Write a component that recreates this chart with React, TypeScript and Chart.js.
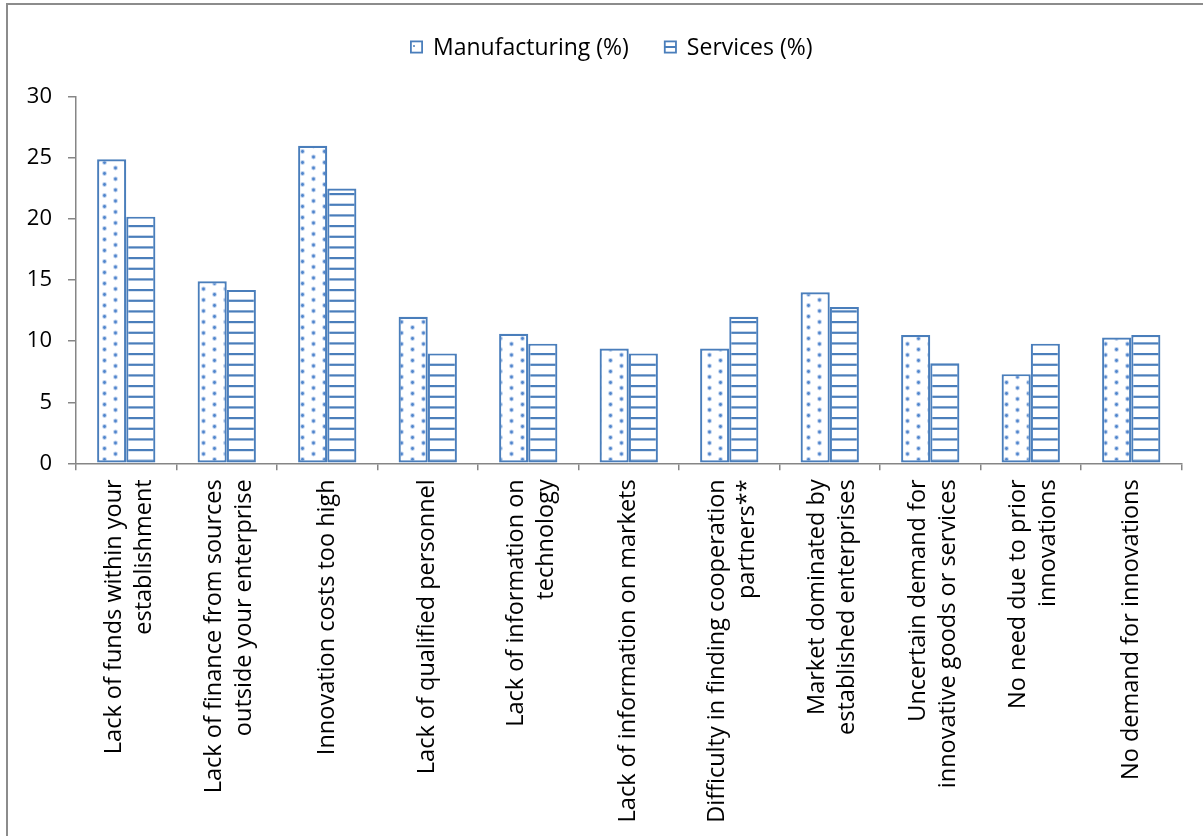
import React, { useEffect, useRef } from "react";
import { Chart, registerables } from "chart.js";

Chart.register(...registerables);

const categories: string[][] = [
  ["Lack of funds within your", "establishment"],
  ["Lack of finance from sources", "outside your enterprise"],
  ["Innovation costs too high"],
  ["Lack of qualified personnel"],
  ["Lack of information on", "technology"],
  ["Lack of information on markets"],
  ["Difficulty in finding cooperation", "partners**"],
  ["Market dominated by", "established enterprises"],
  ["Uncertain demand for", "innovative goods or services"],
  ["No need due to prior", "innovations"],
  ["No demand for innovations"],
];

const seriesNames = ["Manufacturing (%)", "Services (%)"];
const manufacturing = [24.9, 14.9, 26.0, 12.0, 10.6, 9.4, 9.4, 14.0, 10.5, 7.3, 10.3];
const services = [20.2, 14.2, 22.5, 9.0, 9.8, 9.0, 12.0, 12.8, 8.2, 9.8, 10.5];
const yTicks = [0, 5, 10, 15, 20, 25, 30];

const BLUE = "#4A7EBB";
const AXIS = "#868686";
const FONT = "'Open Sans', sans-serif";
const CAT_SIZE = 23.5;
const CAT_LINE = 30;

function makeDotPattern(ctx: CanvasRenderingContext2D): CanvasPattern | string {
  const c = document.createElement("canvas");
  c.width = 22;
  c.height = 22;
  const g = c.getContext("2d")!;
  g.fillStyle = "#ffffff";
  g.fillRect(0, 0, 22, 22);
  const pts = [
    [5.5, 3],
    [16.5, 8.5],
    [5.5, 14],
    [16.5, 19.5],
  ];
  for (const [x, y] of pts) {
    g.fillStyle = "rgba(91,141,211,0.4)";
    g.beginPath();
    g.arc(x, y, 2.4, 0, Math.PI * 2);
    g.fill();
    g.fillStyle = "#4F84CC";
    g.beginPath();
    g.arc(x, y, 1.4, 0, Math.PI * 2);
    g.fill();
  }
  return ctx.createPattern(c, "repeat") || "#fff";
}

function makeLinePattern(ctx: CanvasRenderingContext2D): CanvasPattern | string {
  const c = document.createElement("canvas");
  c.width = 8;
  c.height = 32;
  const g = c.getContext("2d")!;
  g.fillStyle = "#ffffff";
  g.fillRect(0, 0, 8, 32);
  g.fillStyle = BLUE;
  for (const y of [1, 11.67, 22.33]) {
    g.fillRect(0, y, 8, 2.2);
  }
  return ctx.createPattern(c, "repeat") || "#fff";
}

export default function App() {
  const ref = useRef<HTMLCanvasElement | null>(null);

  useEffect(() => {
    const canvas = ref.current!;
    const ctx = canvas.getContext("2d")!;
    const dots = makeDotPattern(ctx);
    const lines = makeLinePattern(ctx);

    const legendPlugin = {
      id: "customLegend",
      afterDraw(chart: any) {
        const c = chart.ctx as CanvasRenderingContext2D;
        c.save();
        c.font = `23px ${FONT}`;
        c.textBaseline = "middle";
        const cy = 47;
        let x = 410;
        seriesNames.forEach((name, i) => {
          c.fillStyle = "#fff";
          c.fillRect(x, cy - 6.5, 13, 13);
          c.strokeStyle = BLUE;
          c.lineWidth = 1.8;
          c.strokeRect(x + 0.9, cy - 5.6, 11.2, 11.2);
          c.fillStyle = BLUE;
          if (i === 0) {
            c.beginPath();
            c.arc(x + 4, cy - 1, 1, 0, Math.PI * 2);
            c.fill();
          } else {
            c.fillRect(x + 1, cy - 1, 11, 2);
          }
          c.fillStyle = "#000";
          c.textAlign = "left";
          c.fillText(name, x + 23, cy + 1);
          x += 23 + c.measureText(name).width + 35;
        });
        c.restore();
      },
    };

    const catLabelPlugin = {
      id: "catLabels",
      afterDraw(chart: any) {
        const c = chart.ctx as CanvasRenderingContext2D;
        const xs = chart.scales.x;
        const top = chart.chartArea.bottom + 16;
        c.save();
        c.font = `${CAT_SIZE}px ${FONT}`;
        c.fillStyle = "#000";
        c.textAlign = "right";
        c.textBaseline = "middle";
        categories.forEach((lines, i) => {
          const n = lines.length;
          const cx = xs.getPixelForValue(i) + (n > 1 ? 3 : 0);
          lines.forEach((line, j) => {
            const lx = cx + (j - (n - 1) / 2) * CAT_LINE;
            c.save();
            c.translate(lx, top);
            c.rotate(-Math.PI / 2);
            c.fillText(line, 0, 0);
            c.restore();
          });
        });
        c.restore();
      },
    };

    const chart = new Chart(ctx, {
      type: "bar",
      data: {
        labels: categories,
        datasets: [
          {
            label: seriesNames[0],
            data: manufacturing,
            backgroundColor: dots as any,
            borderColor: BLUE,
            borderWidth: 2.2,
            borderSkipped: false,
            categoryPercentage: 0.58,
            barPercentage: 1.0,
          },
          {
            label: seriesNames[1],
            data: services,
            backgroundColor: lines as any,
            borderColor: BLUE,
            borderWidth: 2.2,
            borderSkipped: false,
            categoryPercentage: 0.58,
            barPercentage: 1.0,
          },
        ],
      },
      options: {
        responsive: false,
        animation: false,
        devicePixelRatio: 1,
        layout: { padding: { top: 97, right: 21.5, left: 0, bottom: 0 } },
        plugins: {
          legend: { display: false },
          title: { display: false },
          tooltip: { enabled: false },
        },
        scales: {
          x: {
            offset: true,
            grid: {
              display: true,
              offset: true,
              drawOnChartArea: false,
              drawTicks: true,
              tickLength: 7,
              color: AXIS,
              lineWidth: 1.5,
            },
            border: { display: true, color: AXIS, width: 1.5 },
            ticks: {
              display: false,
              autoSkip: false,
            },
            afterFit(scale: any) {
              scale.height = 836 - 463.3;
            },
          },
          y: {
            min: 0,
            max: 30,
            afterBuildTicks(scale: any) {
              scale.ticks = yTicks.map((v) => ({ value: v }));
            },
            grid: {
              display: true,
              drawOnChartArea: false,
              drawTicks: true,
              tickLength: 8,
              color: AXIS,
              lineWidth: 1.5,
            },
            border: { display: true, color: AXIS, width: 1.5 },
            ticks: {
              padding: 16,
              color: "#000",
              font: { family: FONT, size: 22 },
            },
            afterFit(scale: any) {
              scale.width = 76;
            },
          },
        },
      },
      plugins: [legendPlugin, catLabelPlugin],
    });

    return () => chart.destroy();
  }, []);

  return (
    <div
      style={{
        position: "fixed",
        left: 0,
        top: 0,
        width: 1203,
        height: 836,
        overflow: "hidden",
        background: "#fff",
      }}
    >
      <div
        style={{
          position: "absolute",
          left: 6,
          top: 3,
          width: 1400,
          height: 1100,
          border: "2px solid #8C8C8C",
          boxSizing: "border-box",
        }}
      />
      <canvas
        ref={ref}
        width={1203}
        height={836}
        style={{ position: "absolute", left: 0, top: 0, width: 1203, height: 836 }}
      />
    </div>
  );
}
